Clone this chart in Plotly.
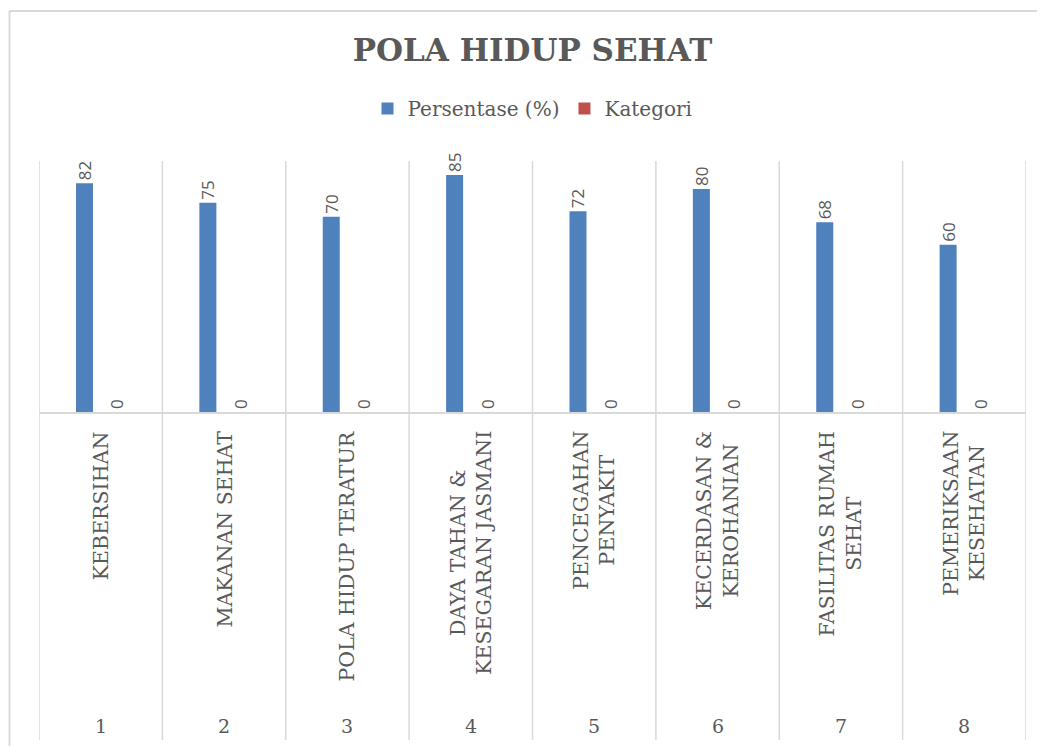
import plotly.graph_objects as go

# ---- data ----
cat_numbers = ["1", "2", "3", "4", "5", "6", "7", "8"]
categories = [
    "KEBERSIHAN",
    "MAKANAN SEHAT",
    "POLA HIDUP TERATUR",
    "DAYA TAHAN &<br>KESEGARAN JASMANI",
    "PENCEGAHAN<br>PENYAKIT",
    "KECERDASAN &<br>KEROHANIAN",
    "FASILITAS RUMAH<br>SEHAT",
    "PEMERIKSAAN<br>KESEHATAN",
]
persentase = [82, 75, 70, 85, 72, 80, 68, 60]
kategori = [0, 0, 0, 0, 0, 0, 0, 0]

# ---- layout geometry (page body adds an 8px offset) ----
OFF = 8
W, H = 1045 - OFF, 746 - OFF
PLOT_LEFT, PLOT_RIGHT, PLOT_TOP, PLOT_BASE = 39, 1026, 161, 412  # viewport px
L = PLOT_LEFT - OFF
R = W - (PLOT_RIGHT - OFF)
T = PLOT_TOP - OFF
B = H - (PLOT_BASE - OFF)
PW = W - L - R
PH = H - T - B


def ypix(py):
    return (PLOT_BASE - py) / PH


def xpix(px):
    return (px - PLOT_LEFT) / PW


GRID = "#d9d9d9"
TXT = "#595959"
SERIF = "DejaVu Serif"

fig = go.Figure()
fig.add_bar(
    name="Persentase (%)", x=cat_numbers, y=persentase,
    marker=dict(color="#4f81bd", line=dict(width=0)),
    text=persentase, textposition="outside", textangle=-90,
    constraintext="none", cliponaxis=False,
    textfont=dict(family="Open Sans", size=17, color=TXT),
)
fig.add_bar(
    name="Kategori", x=cat_numbers, y=kategori,
    marker=dict(color="#c0504d", line=dict(width=0)),
    text=kategori, textposition="outside", textangle=-90,
    constraintext="none", cliponaxis=False,
    textfont=dict(family="Open Sans", size=17, color=TXT),
)

shapes = []
for i in range(len(cat_numbers) + 1):
    shapes.append(dict(type="line", xref="x", yref="paper",
                       x0=i - 0.5, x1=i - 0.5, y0=1, y1=ypix(740),
                       line=dict(color=GRID, width=1.5), layer="below"))
# chart border (left and top edges visible)
shapes.append(dict(type="line", xref="paper", yref="paper",
                   x0=xpix(9.5), x1=xpix(9.5), y0=ypix(11), y1=ypix(800),
                   line=dict(color=GRID, width=2)))
shapes.append(dict(type="line", xref="paper", yref="paper",
                   x0=xpix(9.5), x1=xpix(1100), y0=ypix(11), y1=ypix(11),
                   line=dict(color=GRID, width=2)))

annotations = []
for i, (num, name) in enumerate(zip(cat_numbers, categories)):
    annotations.append(dict(x=i, xref="x", y=ypix(429), yref="paper",
                            text=name, textangle=-90, showarrow=False,
                            yanchor="top", xanchor="center", align="center",
                            font=dict(family=SERIF, size=20.5, color=TXT)))
    annotations.append(dict(x=i, xref="x", y=ypix(726), yref="paper",
                            text=num, showarrow=False,
                            yanchor="middle", xanchor="center",
                            font=dict(family=SERIF, size=19, color=TXT)))

fig.update_layout(
    width=W, height=H,
    margin=dict(l=L, r=R, t=T, b=B, pad=0),
    paper_bgcolor="white", plot_bgcolor="white",
    barmode="group", bargap=0.475, bargroupgap=0.475,
    title=dict(text="<b>POLA HIDUP SEHAT</b>", x=0.5, xref="paper",
               xanchor="center", y=1 - (50 - OFF) / H, yref="container",
               yanchor="middle",
               font=dict(family=SERIF, size=31, color=TXT)),
    legend=dict(orientation="h", x=0.5, xanchor="center",
                y=ypix(89), yanchor="top",
                font=dict(family=SERIF, size=20, color=TXT),
                bgcolor="rgba(0,0,0,0)"),
    xaxis=dict(type="category", range=[-0.5, len(cat_numbers) - 0.5],
               showticklabels=False, showgrid=False, ticks="",
               showline=True, linecolor=GRID, linewidth=1.5,
               zeroline=False),
    yaxis=dict(visible=False, range=[0, 90], showgrid=False,
               zeroline=False),
    shapes=shapes,
    annotations=annotations,
)

fig.write_html("out.html")
